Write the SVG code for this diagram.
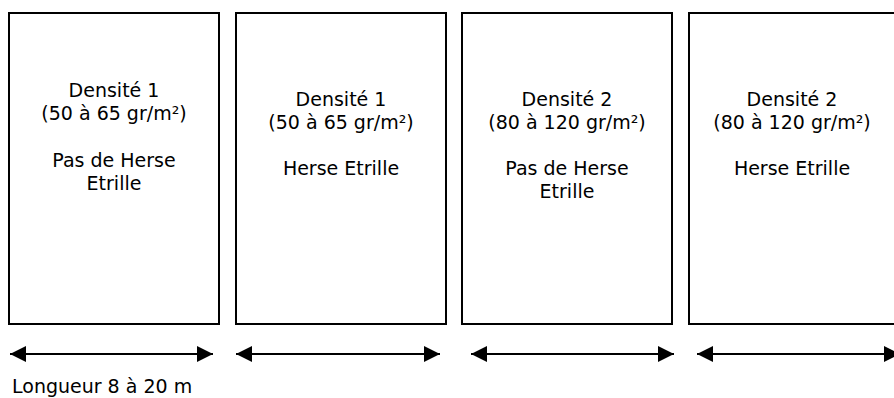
<svg xmlns="http://www.w3.org/2000/svg" width="894" height="398" viewBox="0 0 894 398">
<style>
.box{fill:#fff;stroke:#000;stroke-width:2}
.t{font-family:"DejaVu Sans",Verdana,sans-serif;font-size:19px;fill:#000;text-anchor:middle}
.lbl{font-family:"DejaVu Sans",Verdana,sans-serif;font-size:19px;fill:#000}
.ar{stroke:#000;stroke-width:2.2;fill:none;marker-start:url(#h);marker-end:url(#h)}
</style>
<defs>
<marker id="h" viewBox="0 0 16 16" refX="16" refY="8" markerWidth="16" markerHeight="16" markerUnits="userSpaceOnUse" orient="auto-start-reverse">
<path d="M0,0 L16,8 L0,16 Z" fill="#000"/>
</marker>
</defs>
<rect width="894" height="398" fill="#fff"/>
<g id="p1">
<rect class="box" x="9" y="13" width="210" height="311"/>
<text class="t" x="114" y="97">Densité 1</text>
<text class="t" x="114" y="120">(50 à 65 gr/m²)</text>
<text class="t" x="114" y="167">Pas de Herse</text>
<text class="t" x="114" y="190">Etrille</text>
</g>
<g id="p2">
<rect class="box" x="236" y="13" width="210" height="311"/>
<text class="t" x="341" y="106">Densité 1</text>
<text class="t" x="341" y="129">(50 à 65 gr/m²)</text>
<text class="t" x="341" y="175">Herse Etrille</text>
</g>
<g id="p3">
<rect class="box" x="462" y="13" width="210" height="311"/>
<text class="t" x="567" y="106">Densité 2</text>
<text class="t" x="567" y="129">(80 à 120 gr/m²)</text>
<text class="t" x="567" y="175">Pas de Herse</text>
<text class="t" x="567" y="198">Etrille</text>
</g>
<g id="p4">
<rect class="box" x="689" y="13" width="210" height="311"/>
<text class="t" x="792" y="106">Densité 2</text>
<text class="t" x="792" y="129">(80 à 120 gr/m²)</text>
<text class="t" x="792" y="175">Herse Etrille</text>
</g>
<g id="connectors">
<line class="ar" x1="10" y1="354" x2="213" y2="354"/>
<line class="ar" x1="236" y1="354" x2="440" y2="354"/>
<line class="ar" x1="471" y1="354" x2="674" y2="354"/>
<line class="ar" x1="697" y1="354" x2="900" y2="354"/>
</g>
<text class="lbl" x="12" y="393">Longueur 8 à 20 m</text>
</svg>
